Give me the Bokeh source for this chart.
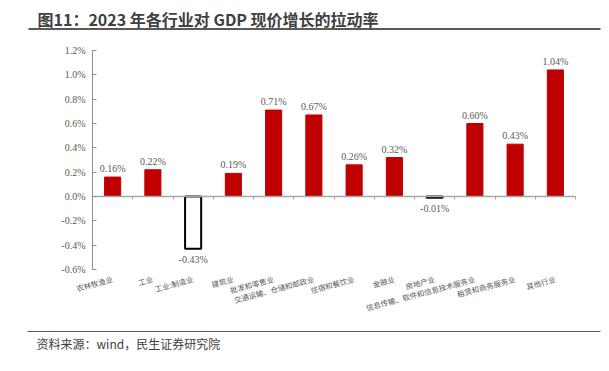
import math
from bokeh.plotting import figure
from bokeh.models import (Range1d, LinearAxis, FixedTicker, PrintfTickFormatter,
                          ColumnDataSource, CustomJSTickFormatter)
from bokeh.embed import file_html
from bokeh.resources import INLINE
from bokeh.core.properties import value

# ---------------- data ----------------
title_text = "图11：2023 年各行业对 GDP 现价增长的拉动率"
source_text = "资料来源：wind，民生证券研究院"
categories = ["农林牧渔业", "工业", "工业:制造业", "建筑业", "批发和零售业",
              "交通运输、仓储和邮政业", "住宿和餐饮业", "金融业", "房地产业",
              "信息传输、软件和信息技术服务业", "租赁和商务服务业", "其他行业"]
values = [0.16, 0.22, -0.43, 0.19, 0.71, 0.67, 0.26, 0.32, -0.01, 0.60, 0.43, 1.04]
y_ticks = [-0.6, -0.4, -0.2, 0.0, 0.2, 0.4, 0.6, 0.8, 1.0, 1.2]
Y_MIN, Y_MAX = -0.6, 1.2

# ---------------- layout constants (canvas pixels) ----------------
W, H = 605, 366
N = len(categories)
PLOT_L, PLOT_R = 92, 575      # chart area left/right
PLOT_T, PLOT_B = 50, 269      # chart area top/bottom
pxu_x = (PLOT_R - PLOT_L) / N
pxu_y = (PLOT_B - PLOT_T) / (Y_MAX - Y_MIN)
x_start = -PLOT_L / pxu_x
x_end = (W - PLOT_L) / pxu_x
y_end = Y_MAX + PLOT_T / pxu_y
y_start = Y_MAX - (H - PLOT_T) / pxu_y

GRAY_TXT = "#595959"
CJK = "Noto Sans CJK SC"
SERIF = "Liberation Serif"
xpos = [i + 0.5 for i in range(N)]

p = figure(width=W, height=H, x_range=Range1d(x_start, x_end), y_range=Range1d(y_start, y_end),
           x_axis_location=None, y_axis_location=None, min_border=0,
           output_backend="svg", toolbar_location=None, outline_line_color=None)
p.grid.visible = False
p.extra_x_ranges = {"px": Range1d(0, W)}
p.extra_y_ranges = {"px": Range1d(H, 0)}

# ---------------- title / footer ----------------
p.text(x=[37], y=[18], text=[title_text], x_range_name="px", y_range_name="px",
       text_font=value(CJK), text_font_style="bold", text_font_size="16px",
       text_color="#404040", text_baseline="middle", text_align="left")
p.segment(x0=[28], y0=[28.5], x1=[600], y1=[28.5], x_range_name="px", y_range_name="px",
          line_color="#595959", line_width=2)
p.segment(x0=[27], y0=[331], x1=[600], y1=[331], x_range_name="px", y_range_name="px",
          line_color="#595959", line_width=1.2)
p.text(x=[36], y=[343], text=[source_text], x_range_name="px", y_range_name="px",
       text_font=value(CJK), text_font_size="12px", text_color="#404040",
       text_baseline="middle", text_align="left")

# ---------------- bars ----------------
fills = ["#C00000" if v >= 0 else "#FFFFFF" for v in values]
lines = ["#C00000" if v >= 0 else "#000000" for v in values]
lws = [1 if v >= 0 else 2 for v in values]
src = ColumnDataSource(dict(x=xpos, val=values, fill=fills, line=lines, lw=lws))
p.vbar(x="x", top="val", bottom=0, width=0.4, fill_color="fill", line_color="line",
       line_width="lw", source=src)

pos_i = [i for i, v in enumerate(values) if v >= 0]
neg_i = [i for i, v in enumerate(values) if v < 0]
pos_src = ColumnDataSource(dict(x=[xpos[i] for i in pos_i], val=[values[i] for i in pos_i],
                                lab=["%.2f%%" % values[i] for i in pos_i]))
neg_src = ColumnDataSource(dict(x=[xpos[i] for i in neg_i], val=[values[i] for i in neg_i],
                                lab=["%.2f%%" % values[i] for i in neg_i]))
p.text(x="x", y="val", text="lab", source=pos_src, text_align="center",
       text_baseline="bottom", y_offset=-3, text_font=value(SERIF),
       text_font_size="10px", text_color=GRAY_TXT)
p.text(x="x", y="val", text="lab", source=neg_src, text_align="center",
       text_baseline="top", y_offset=5, text_font=value(SERIF),
       text_font_size="10px", text_color=GRAY_TXT)

# ---------------- axes ----------------
# category labels axis at bottom of chart area
xa = LinearAxis(fixed_location=Y_MIN, bounds=(0, N), ticker=FixedTicker(ticks=xpos),
                formatter=CustomJSTickFormatter(args=dict(cats=categories),
                                                code="return cats[Math.floor(tick)];"))
xa.axis_line_color = None
xa.major_tick_line_color = None
xa.minor_tick_line_color = None
xa.major_label_orientation = math.radians(15)
xa.major_label_text_font = CJK
xa.major_label_text_font_size = "7.5px"
xa.major_label_text_color = GRAY_TXT
xa.major_label_standoff = 3
p.add_layout(xa, "below")

# zero line with category-boundary ticks
za = LinearAxis(fixed_location=0, bounds=(0, N), ticker=FixedTicker(ticks=list(range(N + 1))))
za.axis_line_color = "#A6A6A6"
za.axis_line_width = 1.5
za.major_tick_line_color = "#A6A6A6"
za.major_tick_in = 0
za.major_tick_out = 3
za.minor_tick_line_color = None
za.major_label_text_color = None
za.major_label_text_font_size = "0px"
p.add_layout(za, "below")

# value axis
ya = LinearAxis(fixed_location=0, bounds=(Y_MIN, Y_MAX), ticker=FixedTicker(ticks=y_ticks),
                formatter=PrintfTickFormatter(format="%.1f%%"))
ya.axis_line_color = "#8C8C8C"
ya.major_tick_line_color = "#8C8C8C"
ya.major_tick_in = 4
ya.major_tick_out = 0
ya.minor_tick_line_color = None
ya.major_label_text_font = SERIF
ya.major_label_text_font_size = "10px"
ya.major_label_text_color = GRAY_TXT
ya.major_label_standoff = 7
p.add_layout(ya, "left")

open("out.html", "w").write(file_html(p, INLINE))
